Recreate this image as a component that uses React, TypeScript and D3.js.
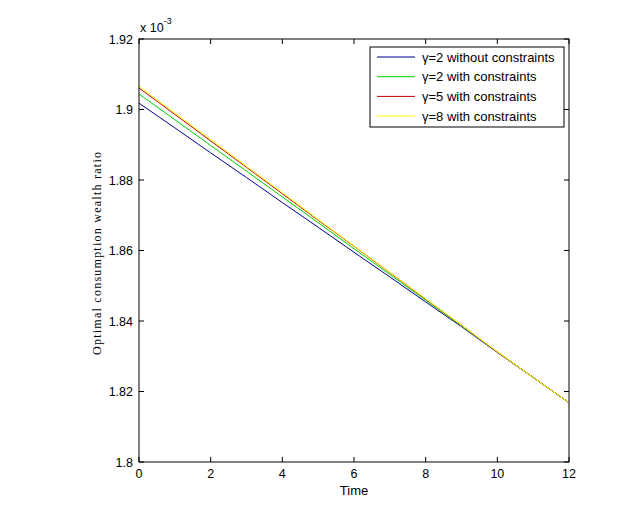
import { useEffect, useRef } from "react";
import * as d3 from "d3";

// time grid and the four ratio curves (values x 10^-3)
const time = [0, 1, 2, 3, 4, 5, 6, 7, 8, 9, 10, 11, 12];
const noConstraintG2 = [1.9018, 1.8948, 1.8877, 1.8807, 1.8736, 1.8666, 1.8595, 1.8525, 1.8454, 1.8384, 1.8311, 1.824, 1.8168];
const constraintG2 = [1.9044, 1.8971, 1.8898, 1.8825, 1.8752, 1.8679, 1.8605, 1.8532, 1.8459, 1.8386, 1.8312, 1.824, 1.8168];
const constraintG5 = [1.9061, 1.8986, 1.8911, 1.8836, 1.8761, 1.8686, 1.8612, 1.8537, 1.8462, 1.8388, 1.8312, 1.824, 1.8168];
const constraintG8 = [1.9066, 1.899, 1.8915, 1.8839, 1.8764, 1.8688, 1.8613, 1.8538, 1.8463, 1.8388, 1.8313, 1.824, 1.8168];

const seriesNames = [
  "γ=2 without constraints",
  "γ=2 with constraints",
  "γ=5 with constraints",
  "γ=8 with constraints",
];
const seriesColors = ["#00008f", "#00d000", "#c00000", "#ffff00"];
const xTicks = [0, 2, 4, 6, 8, 10, 12];
const yTicks = [1.8, 1.82, 1.84, 1.86, 1.88, 1.9, 1.92];

const App = () => {
  const svgRef = useRef<SVGSVGElement>(null);

  useEffect(() => {
    if (!svgRef.current) return;
    const width = 629;
    const height = 519;
    const left = 139;
    const right = 569;
    const top = 39;
    const bottom = 462;
    const tick = 5;

    const svg = d3.select(svgRef.current);
    svg.selectAll("*").remove();
    svg.attr("width", width).attr("height", height);
    svg.append("rect").attr("width", width).attr("height", height).attr("fill", "#fff");

    const x = d3.scaleLinear().domain([0, 12]).range([left, right]);
    const y = d3.scaleLinear().domain([1.8, 1.92]).range([bottom, top]);

    const font = "'Liberation Sans', Arial, sans-serif";

    // curves
    const all = [noConstraintG2, constraintG2, constraintG5, constraintG8];
    const line = d3
      .line<number>()
      .x((_, i) => x(time[i]))
      .y((d) => y(d));
    all.forEach((vals, k) => {
      svg
        .append("path")
        .attr("d", line(vals))
        .attr("fill", "none")
        .attr("stroke", seriesColors[k])
        .attr("stroke-width", 1);
    });

    // axes box
    svg
      .append("rect")
      .attr("x", left)
      .attr("y", top)
      .attr("width", right - left)
      .attr("height", bottom - top)
      .attr("fill", "none")
      .attr("stroke", "#000")
      .attr("stroke-width", 1);

    // ticks on all four sides, pointing inward
    const g = svg.append("g").attr("stroke", "#000").attr("stroke-width", 1);
    xTicks.forEach((t) => {
      g.append("line").attr("x1", x(t)).attr("x2", x(t)).attr("y1", bottom).attr("y2", bottom - tick);
      g.append("line").attr("x1", x(t)).attr("x2", x(t)).attr("y1", top).attr("y2", top + tick);
    });
    yTicks.forEach((t) => {
      g.append("line").attr("x1", left).attr("x2", left + tick).attr("y1", y(t)).attr("y2", y(t));
      g.append("line").attr("x1", right).attr("x2", right - tick).attr("y1", y(t)).attr("y2", y(t));
    });

    svg
      .append("g")
      .selectAll("text")
      .data(xTicks)
      .join("text")
      .attr("x", (d) => x(d))
      .attr("y", 478)
      .attr("text-anchor", "middle")
      .style("font", `12.5px ${font}`)
      .text((d) => d);

    svg
      .append("g")
      .selectAll("text")
      .data(yTicks)
      .join("text")
      .attr("x", 133)
      .attr("y", (d) => y(d) + 4.5)
      .attr("text-anchor", "end")
      .style("font", `12.5px ${font}`)
      .text((d) => d3.format("")(+d.toFixed(2)));

    // exponent
    const exp = svg.append("text").attr("x", 140).attr("y", 32).style("font", `12.5px ${font}`);
    exp.append("tspan").text("x 10");
    exp.append("tspan").attr("dy", -8).style("font-size", "9px").text("-3");

    // axis labels
    svg
      .append("text")
      .attr("x", x(6))
      .attr("y", 495)
      .attr("text-anchor", "middle")
      .style("font", `13px ${font}`)
      .text("Time");

    svg
      .append("text")
      .attr("transform", `translate(101,${(top + bottom) / 2 + 3}) rotate(-90)`)
      .attr("text-anchor", "middle")
      .attr("textLength", 203)
      .attr("lengthAdjust", "spacing")
      .style("font", "12px 'Liberation Serif', 'Times New Roman', serif")
      .text("Optimal consumption wealth ratio");

    // legend
    const lg = svg.append("g");
    lg.append("rect")
      .attr("x", 370)
      .attr("y", 47)
      .attr("width", 194)
      .attr("height", 80)
      .attr("fill", "#fff")
      .attr("stroke", "#000");
    seriesNames.forEach((name, k) => {
      const cy = 57 + k * 19.7;
      lg.append("line")
        .attr("x1", 377)
        .attr("x2", 415)
        .attr("y1", cy)
        .attr("y2", cy)
        .attr("stroke", seriesColors[k]);
      lg.append("text")
        .attr("x", 422)
        .attr("y", cy + 4.5)
        .style("font", `13px ${font}`)
        .text(name);
    });
  }, []);

  return <svg ref={svgRef} style={{ position: "absolute", left: 0, top: 0 }}></svg>;
};

export default App;
